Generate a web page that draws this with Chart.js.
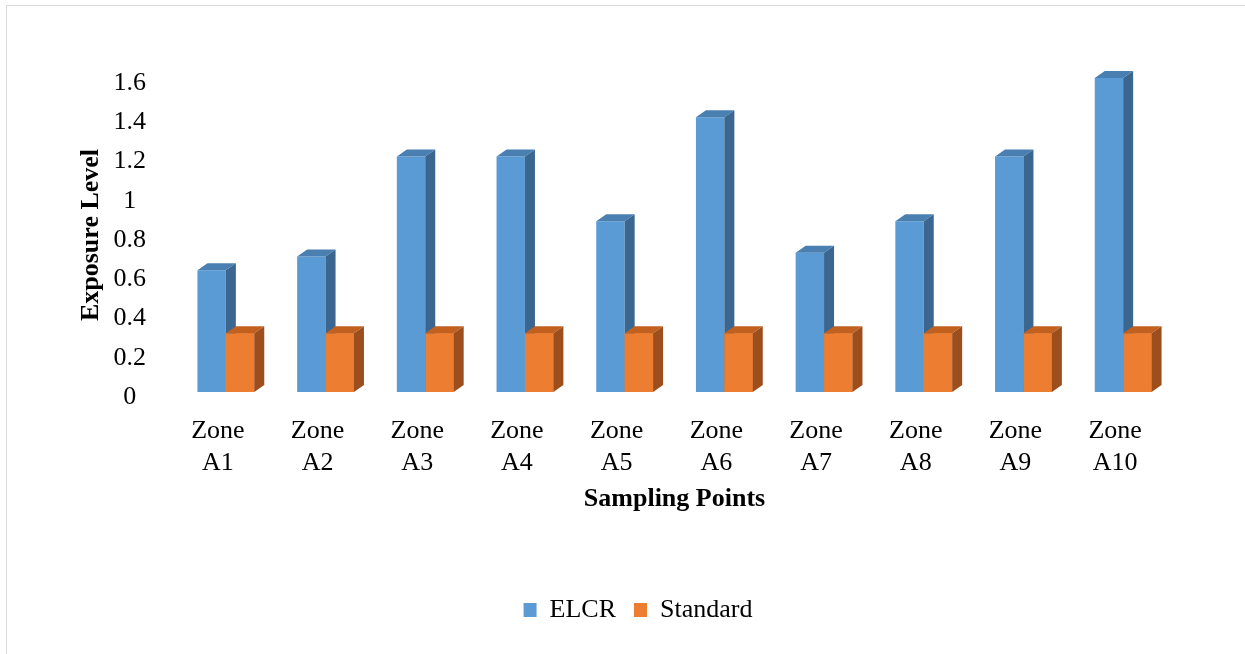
<!DOCTYPE html>
<html>
<head>
<meta charset="utf-8">
<script src="https://cdn.jsdelivr.net/npm/chart.js@4.4.1/dist/chart.umd.min.js"></script>
<style>
  html, body { margin: 0; padding: 0; background: #fff; overflow: hidden; }
  #box { position: absolute; left: 6px; top: 5px; width: 1262px; height: 660px; border: 1px solid #d9d9d9; }
  canvas { display: block; }
</style>
</head>
<body>
<div id="box"><canvas id="diagram" width="1262" height="660"></canvas></div>
<script>
// Data
const zones = [["Zone", "A1"], ["Zone", "A2"], ["Zone", "A3"], ["Zone", "A4"], ["Zone", "A5"],
               ["Zone", "A6"], ["Zone", "A7"], ["Zone", "A8"], ["Zone", "A9"], ["Zone", "A10"]];
const elcr = [0.62, 0.69, 1.2, 1.2, 0.87, 1.4, 0.71, 0.87, 1.2, 1.6];
const standard = [0.3, 0.3, 0.3, 0.3, 0.3, 0.3, 0.3, 0.3, 0.3, 0.3];
const yTickLabels = ["0", "0.2", "0.4", "0.6", "0.8", "1", "1.2", "1.4", "1.6"];

const serif = '"Liberation Serif", "Times New Roman", serif';
Chart.defaults.font.family = serif;
Chart.defaults.color = '#000';

// top and side faces so the bars look like the 3D columns
// drawn group by group, left dataset first, so the right bar sits in front
const depth = {
    id: 'depth',
    afterDatasetsDraw(chart) {
        const ctx = chart.ctx;
        const dx = 10, dy = 7;
        chart.data.datasets.forEach((ds, i) => {
            const meta = chart.getDatasetMeta(i);
            meta.data.forEach(bar => {
                if (i > 0) bar.draw(ctx);
                const { x, y, base, width } = bar.getProps(['x', 'y', 'base', 'width'], true);
                const l = x - width / 2, r = x + width / 2;
                ctx.save();
                ctx.fillStyle = ds.topColor;
                ctx.beginPath();
                ctx.moveTo(l, y);
                ctx.lineTo(l + dx, y - dy);
                ctx.lineTo(r + dx, y - dy);
                ctx.lineTo(r, y);
                ctx.closePath();
                ctx.fill();
                ctx.fillStyle = ds.sideColor;
                ctx.beginPath();
                ctx.moveTo(r, y);
                ctx.lineTo(r + dx, y - dy);
                ctx.lineTo(r + dx, base - dy);
                ctx.lineTo(r, base);
                ctx.closePath();
                ctx.fill();
                ctx.restore();
            });
        });
    }
};

const ctx = document.getElementById('diagram').getContext('2d');

new Chart(ctx, {
    type: 'bar',
    data: {
        labels: zones,
        datasets: [
            {
                label: 'ELCR',
                data: elcr,
                backgroundColor: '#5b9bd5',
                topColor: '#4a7fb1',
                sideColor: '#3b6690'
            },
            {
                label: 'Standard',
                data: standard,
                backgroundColor: '#ed7d31',
                topColor: '#c2611f',
                sideColor: '#9c4e1c'
            }
        ]
    },
    options: {
        responsive: false,
        animation: false,
        layout: { padding: { top: 72, right: 0, bottom: 33, left: 0 } },
        datasets: {
            bar: { categoryPercentage: 0.57, barPercentage: 1 }
        },
        plugins: {
            tooltip: { enabled: false },
            legend: {
                position: 'bottom',
                labels: {
                    boxWidth: 13,
                    boxHeight: 14,
                    padding: 18,
                    font: { size: 26 }
                }
            }
        },
        scales: {
            x: {
                grid: { display: false, drawTicks: false },
                border: { display: false },
                ticks: { font: { size: 26, lineHeight: 1.23 }, padding: 23, labelOffset: -8, maxRotation: 0 },
                title: {
                    display: true,
                    text: 'Sampling Points',
                    font: { size: 26, weight: 'bold' },
                    padding: { top: 0, bottom: 64 }
                },
                afterFit: s => { s.height = 187; }
            },
            y: {
                min: 0,
                max: 1.6,
                grid: { display: false, drawTicks: false },
                border: { display: false },
                ticks: {
                    stepSize: 0.2,
                    font: { size: 26 },
                    padding: 30,
                    crossAlign: 'center',
                    labelOffset: 5,
                    callback: (v, i) => yTickLabels[i]
                },
                title: {
                    display: true,
                    text: 'Exposure Level',
                    font: { size: 26, weight: 'bold' },
                    padding: { top: 69, bottom: 0 }
                },
                afterFit: s => { s.width = 169; }
            },
            yRight: {
                position: 'right',
                grid: { display: false, drawTicks: false },
                border: { display: false },
                ticks: { display: false },
                afterFit: s => { s.width = 96; }
            }
        }
    },
    plugins: [depth]
});
</script>
</body>
</html>
